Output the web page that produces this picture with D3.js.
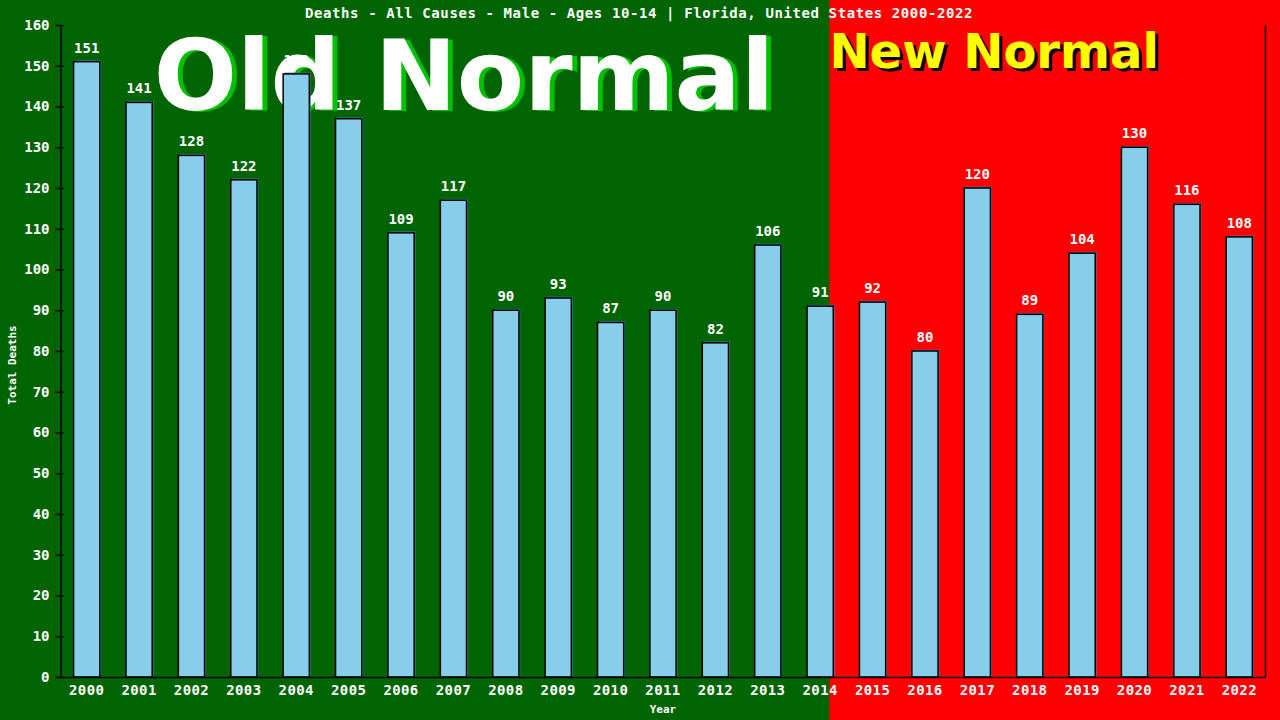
<!DOCTYPE html>
<html>
<head>
<meta charset="utf-8">
<script src="https://cdn.jsdelivr.net/npm/d3@7"></script>
<style>
  html, body { margin: 0; padding: 0; background: #006400; }
  svg { display: block; }
</style>
</head>
<body>
<svg id="chart"></svg>
<script>
const years = ["2000","2001","2002","2003","2004","2005","2006","2007","2008","2009","2010","2011",
               "2012","2013","2014","2015","2016","2017","2018","2019","2020","2021","2022"]
const deaths = [151,141,128,122,148,137,109,117,90,93,87,90,82,106,91,92,80,120,89,104,130,116,108]
const yTicks = [0,10,20,30,40,50,60,70,80,90,100,110,120,130,140,150,160]
const title = "Deaths - All Causes - Male - Ages 10-14 | Florida, United States 2000-2022"

const width = 1280, height = 720
const margin = {top: 25, right: 14.5, bottom: 43, left: 60.5}
const mono = "'DejaVu Sans Mono', 'Liberation Mono', monospace"
const sans = "'DejaVu Sans', Verdana, sans-serif"

const svg = d3.select("#chart")
    .attr("width", width)
    .attr("height", height)

// old / new background halves
const splitX = width * 0.648
svg.append("rect").attr("x", 0).attr("y", 0).attr("width", splitX).attr("height", height).attr("fill", "#006400")
svg.append("rect").attr("x", splitX).attr("y", 0).attr("width", width - splitX).attr("height", height).attr("fill", "#ff0000")

const xScale = d3.scaleBand()
    .domain(years)
    .range([margin.left, width - margin.right])
    .paddingInner(0.5)
    .paddingOuter(0.25)

const yScale = d3.scaleLinear()
    .domain([0, 160])
    .range([height - margin.bottom, margin.top])

// big labels sit behind the bars
const big = svg.append("g").style("font-family", sans).style("font-weight", "bold")
big.append("text")
    .attr("x", 469).attr("y", 111)
    .attr("text-anchor", "middle")
    .style("font-size", "98px")
    .attr("fill", "#00c000")
    .text("Old Normal")
big.append("text")
    .attr("x", 464).attr("y", 110)
    .attr("text-anchor", "middle")
    .style("font-size", "98px")
    .attr("fill", "#ffffff")
    .text("Old Normal")

big.append("text")
    .attr("x", splitX + 3).attr("y", 71)
    .style("font-size", "48px")
    .attr("fill", "#000000")
    .text("New Normal")
big.append("text")
    .attr("x", splitX).attr("y", 68)
    .style("font-size", "48px")
    .attr("fill", "#ffff00")
    .text("New Normal")

// title
svg.append("text")
    .attr("x", width / 2 - 1)
    .attr("y", 18)
    .attr("text-anchor", "middle")
    .style("font-family", mono)
    .style("font-size", "14px")
    .style("font-weight", "bold")
    .style("letter-spacing", "0.6px")
    .attr("fill", "#fff")
    .text(title)

// bars: steel-blue shadow then outlined bar
const bars = svg.append("g")
bars.selectAll("rect.shadow")
    .data(deaths)
    .enter().append("rect")
    .attr("class", "shadow")
    .attr("x", (d, i) => xScale(years[i]) + 1.3)
    .attr("y", d => yScale(d) - 1.3)
    .attr("width", xScale.bandwidth())
    .attr("height", d => yScale(0) - yScale(d) + 1.3)
    .attr("fill", "#4682b4")
bars.selectAll("rect.bar")
    .data(deaths)
    .enter().append("rect")
    .attr("class", "bar")
    .attr("x", (d, i) => xScale(years[i]))
    .attr("y", d => yScale(d))
    .attr("width", xScale.bandwidth())
    .attr("height", d => yScale(0) - yScale(d))
    .attr("fill", "#87ceeb")
    .attr("stroke", "#000")
    .attr("stroke-width", 1.5)

bars.selectAll("text")
    .data(deaths)
    .enter().append("text")
    .attr("x", (d, i) => xScale(years[i]) + xScale.bandwidth() / 2)
    .attr("y", d => yScale(d) - 9)
    .attr("text-anchor", "middle")
    .style("font-family", mono)
    .style("font-size", "14px")
    .style("font-weight", "bold")
    .attr("fill", "#fff")
    .text(d => d)

// axes
const yAxis = svg.append("g")
    .attr("transform", `translate(${margin.left},0)`)
    .call(d3.axisLeft(yScale).tickValues(yTicks).tickSize(5).tickSizeOuter(0).tickPadding(6))
yAxis.selectAll(".tick line").attr("x1", 3).attr("stroke", "#000").attr("stroke-width", 1.5)
yAxis.select(".domain").attr("stroke", "#000").attr("stroke-width", 1.5)
yAxis.selectAll("text")
    .style("font-family", mono)
    .style("font-size", "14px")
    .style("font-weight", "bold")
    .attr("fill", "#fff")

const xAxis = svg.append("g")
    .attr("transform", `translate(0,${height - margin.bottom})`)
    .call(d3.axisBottom(xScale).tickSize(0).tickSizeOuter(0).tickPadding(8))
xAxis.select(".domain").attr("stroke", "#000").attr("stroke-width", 1.5)
xAxis.selectAll("text")
    .style("font-family", mono)
    .style("font-size", "14px")
    .style("font-weight", "bold")
    .style("letter-spacing", "0.4px")
    .attr("fill", "#fff")

// right frame line
svg.append("line")
    .attr("x1", width - margin.right).attr("x2", width - margin.right)
    .attr("y1", yScale(160)).attr("y2", yScale(0))
    .attr("stroke", "#000").attr("stroke-width", 1.5)

// axis titles
svg.append("text")
    .attr("x", (margin.left + width - margin.right) / 2)
    .attr("y", 713)
    .attr("text-anchor", "middle")
    .style("font-family", mono)
    .style("font-size", "11px")
    .style("font-weight", "bold")
    .attr("fill", "#fff")
    .text("Year")

svg.append("text")
    .attr("transform", `translate(16,${(yScale(0) + yScale(160)) / 2 + 14}) rotate(-90)`)
    .attr("text-anchor", "middle")
    .style("font-family", mono)
    .style("font-size", "11px")
    .style("font-weight", "bold")
    .attr("fill", "#fff")
    .text("Total Deaths")
</script>
</body>
</html>
